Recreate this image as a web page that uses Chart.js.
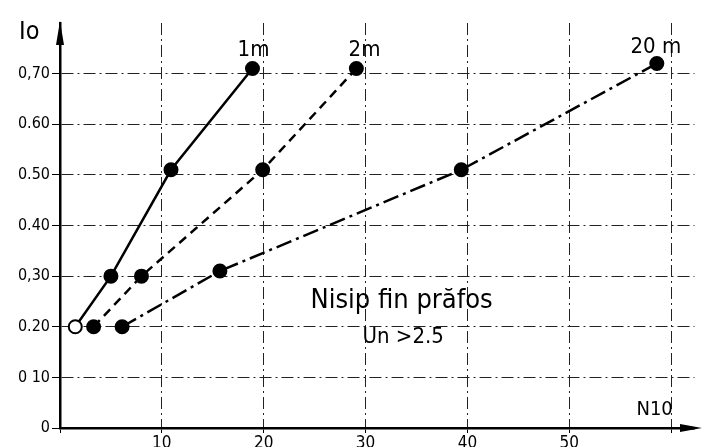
<!DOCTYPE html>
<html>
<head>
<meta charset="utf-8">
<script src="https://cdn.jsdelivr.net/npm/chart.js@4/dist/chart.umd.min.js"></script>
<style>
  html, body { margin: 0; padding: 0; background: #fff; }
  #wrap { width: 703px; height: 447px; }
</style>
</head>
<body>
<div id="wrap"><canvas id="c"></canvas></div>
<script>
// values (N10 blows vs Io)
var n1m  = [1.5, 5.0, 10.9, 18.9];
var io1m = [0.20, 0.30, 0.51, 0.71];
var n2m  = [3.3, 8.0, 19.9, 29.1];
var io2m = [0.20, 0.30, 0.51, 0.71];
var n20m  = [6.1, 15.7, 39.4, 58.6];
var io20m = [0.20, 0.31, 0.51, 0.72];

var seriesNames = ['1m', '2m', '20 m'];
var xTicks = [0, 10, 20, 30, 40, 50, 60];
var xTickLabels = ['', '10', '20', '30', '40', '50', ''];
var yTicks = [0, 0.1, 0.2, 0.3, 0.4, 0.5, 0.6, 0.7];
var yTickLabels = ['0', '0 10', '0.20', '0,30', '0.40', '0.50', '0.60', '0,70'];

var FONT = "'DejaVu Sans Condensed', 'DejaVu Sans', sans-serif";

function pts(xs, ys) {
    return xs.map(function (x, i) { return { x: x, y: ys[i] }; });
}

function lineSet(label, data, dash, firstFill) {
    return {
        label: label,
        data: data,
        borderColor: '#000',
        borderWidth: 2.5,
        borderDash: dash,
        pointRadius: 6.5,
        pointHoverRadius: 6.5,
        pointBorderWidth: 2,
        pointBorderColor: '#000',
        pointBackgroundColor: data.map(function (d, i) { return i === 0 ? firstFill : '#000'; }),
        tension: 0,
        fill: false
    };
}

// axis arrows + hand lettering
var lettering = {
    id: 'lettering',
    afterDraw: function (chart) {
        var ctx = chart.ctx, x = chart.scales.x, y = chart.scales.y, a = chart.chartArea;
        var endX = chart.width - 1;
        ctx.save();
        ctx.fillStyle = '#000';
        ctx.strokeStyle = '#000';
        // x axis runs on to the page edge
        ctx.lineWidth = 2.5;
        ctx.beginPath();
        ctx.moveTo(a.right - 2, a.bottom);
        ctx.lineTo(endX - 10, a.bottom);
        ctx.stroke();
        // y arrow
        ctx.beginPath();
        ctx.moveTo(a.left, a.top - 2);
        ctx.lineTo(a.left - 4, a.top + 22);
        ctx.lineTo(a.left + 4, a.top + 22);
        ctx.closePath();
        ctx.fill();
        // x arrow
        ctx.beginPath();
        ctx.moveTo(endX, a.bottom);
        ctx.lineTo(endX - 22, a.bottom - 4);
        ctx.lineTo(endX - 22, a.bottom + 4);
        ctx.closePath();
        ctx.fill();

        ctx.textBaseline = 'alphabetic';
        ctx.font = '25px ' + FONT;
        ctx.textAlign = 'left';
        ctx.fillText('Io', a.left - 41, a.top + 16);

        ctx.font = '20px ' + FONT;
        ctx.fillText('N10', x.getPixelForValue(56.6), y.getPixelForValue(0.026));

        ctx.textAlign = 'center';
        ctx.font = '22px ' + FONT;
        ctx.fillText(seriesNames[0], x.getPixelForValue(19.0), y.getPixelForValue(0.735));
        ctx.fillText(seriesNames[1], x.getPixelForValue(29.9), y.getPixelForValue(0.735));
        ctx.fillText(seriesNames[2], x.getPixelForValue(58.5), y.getPixelForValue(0.74));

        ctx.textAlign = 'left';
        ctx.font = '27px ' + FONT;
        ctx.fillText('Nisip fin prăfos', x.getPixelForValue(24.6), y.getPixelForValue(0.238));
        ctx.font = '22px ' + FONT;
        ctx.fillText('Un >2.5', x.getPixelForValue(29.7), y.getPixelForValue(0.168));
        ctx.restore();
    }
};

new Chart(document.getElementById('c'), {
    type: 'line',
    data: {
        datasets: [
            lineSet(seriesNames[0], pts(n1m, io1m), [], '#fff'),
            lineSet(seriesNames[1], pts(n2m, io2m), [9, 6], '#000'),
            lineSet(seriesNames[2], pts(n20m, io20m), [16, 5, 3, 5], '#000')
        ]
    },
    options: {
        responsive: true,
        maintainAspectRatio: false,
        animation: false,
        events: [],
        layout: { padding: { top: 23, left: 0, right: 0, bottom: 0 } },
        plugins: { legend: { display: false }, tooltip: { enabled: false } },
        scales: {
            x: {
                type: 'linear',
                min: 0,
                max: 62.3,
                afterBuildTicks: function (s) { s.ticks = xTicks.map(function (v) { return { value: v }; }); },
                afterFit: function (s) { s.height = 19; },
                ticks: {
                    autoSkip: false,
                    maxRotation: 0,
                    padding: 0,
                    color: '#000',
                    font: { family: FONT, size: 17 },
                    callback: function (v) { return xTickLabels[xTicks.indexOf(v)]; }
                },
                grid: { color: '#222', lineWidth: 1, tickLength: 5, tickColor: '#000' },
                border: { display: true, color: '#000', width: 2.5, dash: [12, 4, 2, 4] }
            },
            y: {
                type: 'linear',
                min: 0,
                max: 0.8,
                afterBuildTicks: function (s) { s.ticks = yTicks.map(function (v) { return { value: v }; }); },
                afterFit: function (s) { s.width = 60; },
                ticks: {
                    autoSkip: false,
                    padding: 2,
                    color: '#000',
                    font: { family: FONT, size: 16 },
                    callback: function (v) {
                        var i = yTicks.findIndex(function (t) { return Math.abs(t - v) < 1e-6; });
                        return i < 0 ? '' : yTickLabels[i];
                    }
                },
                grid: { color: '#222', lineWidth: 1, tickLength: 8, tickColor: '#000' },
                border: { display: true, color: '#000', width: 2.5, dash: [12, 4, 2, 4] }
            }
        }
    },
    plugins: [lettering]
});
</script>
</body>
</html>
